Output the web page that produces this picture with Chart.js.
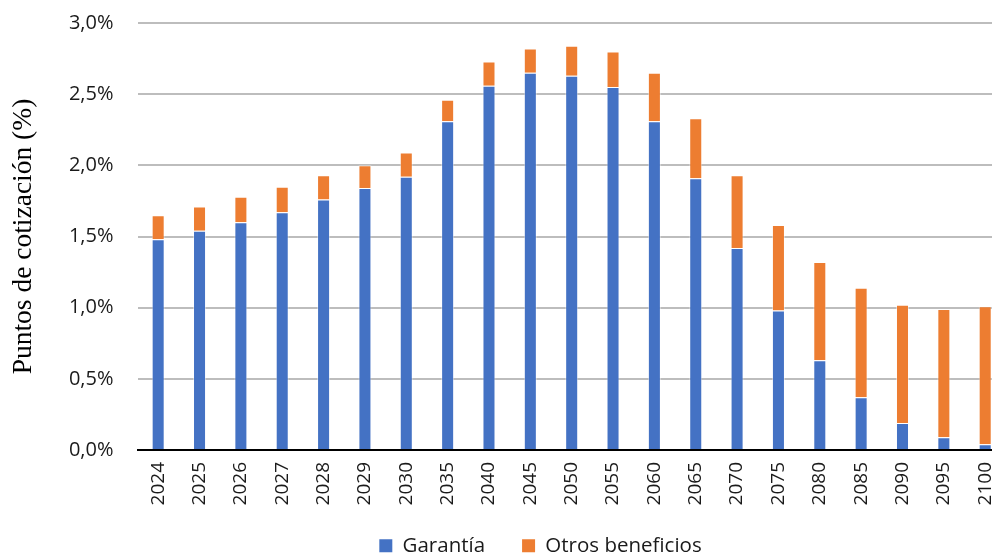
<!DOCTYPE html>
<html>
<head>
<meta charset="utf-8">
<script src="https://cdn.jsdelivr.net/npm/chart.js@4"></script>
<style>
  html, body { margin: 0; padding: 0; overflow: hidden; background: #fff; }
  #wrap { width: 1020px; height: 554px; position: relative; }
</style>
</head>
<body>
<div id="wrap"><canvas id="chart"></canvas></div>
<script>
const years = ['2024', '2025', '2026', '2027', '2028', '2029', '2030', '2035', '2040', '2045', '2050',
               '2055', '2060', '2065', '2070', '2075', '2080', '2085', '2090', '2095', '2100'];
const garantia = [1.48, 1.54, 1.60, 1.67, 1.76, 1.84, 1.92, 2.31, 2.56, 2.65, 2.63,
                  2.55, 2.31, 1.91, 1.42, 0.98, 0.63, 0.37, 0.19, 0.09, 0.04];
const otrosBeneficios = [0.17, 0.17, 0.18, 0.18, 0.17, 0.16, 0.17, 0.15, 0.17, 0.17, 0.21,
                         0.25, 0.34, 0.42, 0.51, 0.60, 0.69, 0.77, 0.83, 0.90, 0.97];
const yTicks = [0, 0.5, 1, 1.5, 2, 2.5, 3];

const sans = "'Open Sans', 'Noto Sans', sans-serif";

// coloca la leyenda como en la original (centrada más a la derecha y un poco más arriba)
const legendShift = {
    id: 'legendShift',
    afterLayout(chart) {
        const lg = chart.legend;
        lg.left += 30.5;
        lg.right += 30.5;
        lg.top -= 9.5;
    }
};

const ctx = document.getElementById('chart').getContext('2d');
new Chart(ctx, {
    type: 'bar',
    data: {
        labels: years,
        datasets: [{
            label: 'Garantía',
            data: garantia,
            backgroundColor: '#4472C4',
            borderColor: 'rgba(255,255,255,0.45)',
            borderWidth: 1,
            barPercentage: 0.315,
            categoryPercentage: 1
        }, {
            label: 'Otros beneficios',
            data: otrosBeneficios,
            backgroundColor: '#ED7D31',
            borderColor: 'rgba(255,255,255,0.45)',
            borderWidth: 1,
            barPercentage: 0.315,
            categoryPercentage: 1
        }]
    },
    options: {
        responsive: true,
        maintainAspectRatio: false,
        animation: false,
        layout: { padding: 0 },
        plugins: {
            legend: {
                position: 'bottom',
                maxHeight: 46,
                labels: {
                    boxWidth: 13,
                    boxHeight: 13,
                    padding: 37,
                    color: '#1a1a1a',
                    font: { family: sans, size: 20.5 },
                    generateLabels(chart) {
                        return chart.data.datasets.map((ds, i) => ({
                            text: ds.label,
                            fillStyle: ds.backgroundColor,
                            strokeStyle: ds.backgroundColor,
                            lineWidth: 0,
                            fontColor: '#1a1a1a',
                            datasetIndex: i
                        }));
                    }
                }
            },
            tooltip: { enabled: false }
        },
        scales: {
            x: {
                stacked: true,
                grid: { display: false, drawTicks: false },
                border: { display: true, color: '#000', width: 2 },
                ticks: {
                    minRotation: 90,
                    maxRotation: 90,
                    padding: 12,
                    color: '#1a1a1a',
                    font: { family: sans, size: 19 }
                },
                afterFit(scale) { scale.height = 58; }
            },
            y: {
                stacked: true,
                min: 0,
                max: 3,
                afterBuildTicks(scale) { scale.ticks = yTicks.map(v => ({ value: v })); },
                grid: { color: '#bdbdbd', lineWidth: 2, drawTicks: true, tickLength: 13, tickColor: 'rgba(0,0,0,0)' },
                border: { display: false },
                ticks: {
                    padding: 11,
                    color: '#1a1a1a',
                    font: { family: sans, size: 20 },
                    callback: v => v.toFixed(1).replace('.', ',') + '%'
                },
                title: {
                    display: true,
                    text: 'Puntos de cotización (%)',
                    color: '#000',
                    padding: { top: 7, bottom: 0 },
                    font: { family: "'Liberation Serif', 'DejaVu Serif', serif", size: 27.5, weight: 'normal' }
                },
                afterFit(scale) { scale.width = 137.5; }
            }
        }
    },
    plugins: [legendShift]
});
</script>
</body>
</html>
